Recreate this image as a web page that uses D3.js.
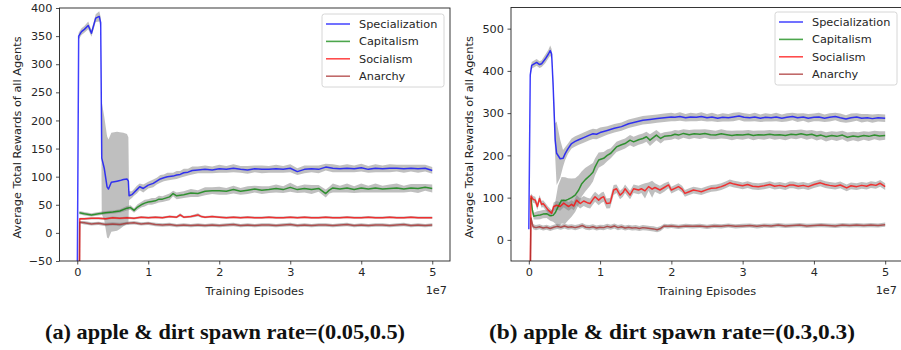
<!DOCTYPE html>
<html lang="en">
<head>
  <meta charset="UTF-8" />
  <title>Average Total Rewards</title>
  <script src="https://d3js.org/d3.v7.min.js"></script>
  <style>
    body { margin: 0; background: #fff; }
    svg text { font-family: "DejaVu Sans", sans-serif; fill: #262626; }
    .caption { font-family: "Liberation Serif", serif; font-weight: bold; fill: #111; }
  </style>
</head>
<body>
  <svg id="chart" width="901" height="350"></svg>

  <script>
    const seriesNames = ["Specialization", "Capitalism", "Socialism", "Anarchy"];
    const seriesColors = ["blue", "green", "red", "brown"];
    const xTicks = [0, 1, 2, 3, 4, 5];
    const yTicksA = [-50, 0, 50, 100, 150, 200, 250, 300, 350, 400];
    const yTicksB = [0, 100, 200, 300, 400, 500];

    // [training episodes (1e7), mean reward, std]
    const specA = [[0,-90,0],[0.02,350,6],[0.06,358,6],[0.1,362,6],[0.155,369,7],[0.2,355,6],[0.26,382,7],
      [0.31,385,9],[0.33,374,10],[0.345,133,100],[0.38,115,92],[0.42,82,90],[0.44,78,88],[0.48,90,88],
      [0.52,91,88],[0.56,92,88],[0.6,93,86],[0.65,95,83],[0.7,96,80],[0.72,92,78],[0.73,66,8],[0.77,68,6],
      [0.8,72,6],[0.84,77,7],[0.88,82,6],[0.93,79,7],[1.0,85,6],[1.07,88,7],[1.12,92,6],[1.17,96,7],
      [1.22,98,6],[1.27,100,7],[1.35,101,6],[1.4,103,7],[1.45,104,6],[1.5,107,7],[1.56,108,6],[1.62,111,7],
      [1.7,112,6],[1.8,113,7],[1.9,112,6],[2.0,114,7],[2.1,113,6],[2.2,115,7],[2.3,113,6],[2.4,112,7],
      [2.5,114,6],[2.6,113,7],[2.7,113,6],[2.8,114,7],[2.9,113,6],[3.0,115,7],[3.1,109,6],[3.2,113,7],
      [3.3,114,6],[3.4,113,7],[3.5,117,6],[3.6,115,7],[3.7,114,6],[3.8,115,7],[3.9,114,6],[4.0,116,7],
      [4.1,113,6],[4.2,115,7],[4.3,114,6],[4.4,115,7],[4.5,115,6],[4.6,114,7],[4.7,115,6],[4.8,114,7],
      [4.9,115,6],[5.0,111,6]];
    const capA = [[0.03,36,3],[0.1,34,3],[0.2,32,3],[0.3,34,3],[0.4,36,3],[0.5,37,3],[0.6,39,3],[0.7,44,4],
      [0.75,45,4],[0.8,40,4],[0.85,46,5],[0.9,50,5],[0.95,53,6],[1.0,55,5],[1.05,56,6],[1.1,57,5],
      [1.15,60,6],[1.2,60,5],[1.3,64,6],[1.35,70,5],[1.4,66,6],[1.5,68,6],[1.6,71,7],[1.7,70,6],
      [1.8,74,7],[1.9,75,6],[2.0,75,7],[2.1,74,6],[2.2,77,7],[2.3,74,6],[2.4,76,7],[2.5,78,6],
      [2.6,76,7],[2.7,77,6],[2.8,79,7],[2.9,77,6],[3.0,81,8],[3.1,77,6],[3.2,79,7],[3.3,77,8],
      [3.4,79,6],[3.5,70,7],[3.55,76,6],[3.6,80,8],[3.7,78,6],[3.8,80,8],[3.9,77,6],[4.0,80,8],
      [4.1,78,6],[4.2,80,8],[4.3,78,6],[4.4,79,7],[4.5,80,8],[4.6,78,6],[4.7,80,7],[4.8,79,8],
      [4.9,81,6],[5.0,79,7]];
    const socA = [[0.03,-90,0],[0.035,25,2],[0.1,25,2],[0.2,26,2],[0.3,26,2],[0.4,25,2],[0.5,27,2],
      [0.6,26,2],[0.7,27,2],[0.8,26,2],[0.9,28,2],[1.0,27,2],[1.1,28,2],[1.2,27,2],[1.3,29,2],[1.4,28,2],
      [1.45,32,3],[1.5,28,2],[1.6,29,2],[1.7,32,3],[1.75,29,2],[1.8,28,2],[1.9,29,2],[2.0,28,2],
      [2.1,27,2],[2.2,28,2],[2.3,27,2],[2.4,28,2],[2.5,27,2],[2.6,27,2],[2.7,28,2],[2.8,27,2],
      [2.9,27,2],[3.0,28,2],[3.1,27,2],[3.2,28,2],[3.3,27,2],[3.4,27,2],[3.5,28,2],[3.6,27,2],
      [3.7,27,2],[3.8,28,2],[3.9,27,2],[4.0,27,2],[4.1,28,2],[4.2,27,2],[4.3,27,2],[4.4,28,2],
      [4.5,27,2],[4.6,27,2],[4.7,28,2],[4.8,27,2],[4.9,27,2],[5.0,27,2]];
    const anaA = [[0.03,-90,0],[0.035,19,2],[0.1,18,3],[0.2,16,3],[0.3,17,3],[0.4,15,3],[0.5,16,3],
      [0.6,15,3],[0.7,17,3],[0.8,18,3],[0.9,16,3],[1.0,17,3],[1.1,15,3],[1.2,14,3],[1.3,15,3],[1.4,13,3],
      [1.5,14,3],[1.6,13,3],[1.7,14,3],[1.8,13,3],[1.9,14,3],[2.0,13,3],[2.1,14,3],[2.2,15,3],[2.3,13,3],
      [2.4,14,3],[2.5,13,3],[2.6,14,3],[2.7,14,3],[2.8,13,3],[2.9,14,3],[3.0,15,3],[3.1,13,3],[3.2,14,3],
      [3.3,13,3],[3.4,14,3],[3.5,14,3],[3.6,13,3],[3.7,14,3],[3.8,15,3],[3.9,13,3],[4.0,14,3],[4.1,13,3],
      [4.2,14,3],[4.3,14,3],[4.4,13,3],[4.5,14,3],[4.6,15,3],[4.7,13,3],[4.8,14,3],[4.9,13,3],[5.0,14,3]];

    const specB = [[0,25,0],[0.02,390,8],[0.04,413,8],[0.11,420,8],[0.15,415,8],[0.18,417,8],[0.23,428,10],
      [0.275,440,10],[0.3,448,12],[0.32,440,12],[0.34,370,20],[0.37,236,40],[0.39,205,75],[0.44,192,45],
      [0.48,193,20],[0.51,204,15],[0.55,216,12],[0.6,228,12],[0.65,233,12],[0.7,237,12],[0.77,242,12],
      [0.85,248,12],[0.9,251,12],[0.95,250,12],[1.0,254,12],[1.1,259,10],[1.2,264,10],[1.3,268,10],
      [1.4,275,10],[1.5,279,10],[1.6,283,10],[1.7,285,10],[1.8,287,10],[1.9,289,10],[2.0,291,10],
      [2.05,290,9],[2.12,292,10],[2.2,289,9],[2.27,291,10],[2.35,290,9],[2.42,292,10],[2.5,289,9],
      [2.57,291,10],[2.65,288,9],[2.72,290,10],[2.8,289,9],[2.87,291,10],[2.95,293,9],[3.02,290,10],
      [3.1,289,9],[3.17,291,10],[3.25,288,9],[3.32,290,10],[3.4,289,9],[3.47,291,10],[3.55,288,9],
      [3.62,290,10],[3.7,292,9],[3.77,289,10],[3.85,291,9],[3.92,288,10],[4.0,290,9],[4.07,291,10],
      [4.15,288,9],[4.22,290,10],[4.3,292,9],[4.37,289,10],[4.45,286,9],[4.52,289,10],[4.6,291,9],
      [4.67,288,10],[4.75,289,9],[4.82,287,10],[4.9,289,9],[5.0,288,9]];
    const capB = [[0.03,100,5],[0.05,70,8],[0.07,56,8],[0.12,58,10],[0.16,59,10],[0.2,61,10],[0.25,62,10],
      [0.3,57,12],[0.34,58,15],[0.37,64,25],[0.41,78,50],[0.46,94,55],[0.51,93,55],[0.55,96,50],
      [0.6,100,45],[0.65,106,40],[0.7,118,35],[0.74,132,30],[0.79,142,28],[0.86,153,25],[0.9,160,22],
      [0.93,173,20],[0.98,189,18],[1.05,193,15],[1.1,200,14],[1.15,205,12],[1.23,220,12],[1.3,225,12],
      [1.35,228,12],[1.42,236,12],[1.47,232,12],[1.54,237,12],[1.6,240,12],[1.65,244,12],[1.7,236,14],
      [1.79,248,12],[1.85,240,12],[1.9,245,10],[2.0,247,10],[2.05,250,10],[2.1,248,11],[2.17,252,10],
      [2.25,249,11],[2.32,251,10],[2.4,250,11],[2.47,252,10],[2.55,249,11],[2.62,248,10],[2.7,251,11],
      [2.78,249,10],[2.85,247,11],[2.92,249,10],[3.0,248,11],[3.08,250,10],[3.15,247,11],[3.22,249,10],
      [3.3,248,11],[3.38,250,10],[3.45,248,11],[3.52,249,10],[3.6,247,11],[3.68,250,10],[3.75,249,11],
      [3.82,251,10],[3.9,248,11],[3.97,250,10],[4.04,246,11],[4.1,248,10],[4.17,244,11],[4.25,247,10],
      [4.32,245,11],[4.4,248,10],[4.47,243,11],[4.55,246,10],[4.62,244,11],[4.7,247,10],[4.77,245,11],
      [4.85,248,10],[4.92,246,11],[5.0,247,10]];
    const socB = [[0.02,-90,0],[0.03,104,6],[0.06,96,8],[0.09,94,8],[0.12,79,8],[0.15,98,8],[0.18,84,8],
      [0.2,86,8],[0.23,80,8],[0.27,71,8],[0.32,63,8],[0.35,79,10],[0.39,82,10],[0.44,79,10],[0.49,87,10],
      [0.53,82,10],[0.56,79,10],[0.6,84,10],[0.63,80,10],[0.67,94,12],[0.72,86,12],[0.77,92,12],
      [0.82,88,12],[0.86,86,12],[0.9,96,12],[0.93,102,12],[0.98,94,12],[1.02,100,12],[1.05,102,12],
      [1.09,86,12],[1.14,87,12],[1.19,118,12],[1.23,121,10],[1.28,106,10],[1.32,112,10],[1.35,121,10],
      [1.42,106,10],[1.47,121,10],[1.54,118,10],[1.58,121,10],[1.63,116,18],[1.68,126,10],[1.73,120,20],
      [1.77,124,10],[1.84,118,10],[1.9,124,10],[1.96,130,8],[2.0,118,8],[2.05,122,8],[2.1,126,8],
      [2.15,120,8],[2.19,110,8],[2.25,114,8],[2.31,118,8],[2.37,116,8],[2.42,114,8],[2.5,119,8],
      [2.56,122,8],[2.63,123,8],[2.7,126,8],[2.76,130,8],[2.82,135,8],[2.88,132,8],[2.94,130,8],
      [3.0,128,8],[3.07,131,8],[3.14,127,8],[3.22,126,8],[3.3,128,8],[3.38,131,8],[3.45,127,8],
      [3.52,129,8],[3.6,126,8],[3.66,130,8],[3.71,130,8],[3.78,127,8],[3.85,129,8],[3.92,126,8],
      [4.0,131,8],[4.09,135,8],[4.16,131,8],[4.22,129,8],[4.3,127,8],[4.37,130,8],[4.46,123,8],
      [4.52,128,8],[4.6,126,8],[4.67,129,8],[4.74,127,8],[4.8,131,8],[4.87,129,8],[4.93,134,8],[5.0,126,8]];
    const anaB = [[0.02,-90,0],[0.03,52,6],[0.06,31,6],[0.1,29,6],[0.15,31,6],[0.2,28,6],[0.25,30,6],
      [0.3,27,6],[0.35,30,6],[0.4,32,6],[0.45,30,6],[0.5,33,6],[0.55,30,6],[0.6,31,6],[0.65,29,6],
      [0.7,31,6],[0.75,34,6],[0.8,30,6],[0.85,29,6],[0.9,31,6],[0.95,28,6],[1.0,30,6],[1.05,29,6],
      [1.1,32,6],[1.15,30,6],[1.2,33,6],[1.25,29,6],[1.3,31,6],[1.35,28,6],[1.4,30,6],[1.45,28,6],
      [1.5,29,6],[1.55,27,6],[1.6,29,6],[1.65,28,6],[1.7,27,6],[1.75,26,6],[1.8,24,6],[1.85,27,6],
      [1.9,33,5],[1.95,32,5],[2.0,33,5],[2.1,31,5],[2.2,33,5],[2.3,32,5],[2.4,33,5],[2.5,31,5],
      [2.6,33,5],[2.7,32,5],[2.8,34,5],[2.9,32,5],[3.0,33,5],[3.1,34,5],[3.2,32,5],[3.3,34,5],
      [3.4,33,5],[3.5,35,5],[3.6,33,5],[3.7,34,5],[3.8,35,5],[3.9,33,5],[4.0,34,5],[4.1,35,5],
      [4.2,34,5],[4.3,33,5],[4.4,35,5],[4.5,34,5],[4.6,35,5],[4.7,34,5],[4.8,35,5],[4.9,34,5],[5.0,36,5]];

    const panels = [
      { id: "a", left: 59.5, right: 450, top: 8, bottom: 261, yDomain: [-50, 400], yTicks: yTicksA,
        series: [specA, capA, socA, anaA], legend: { x: 322, y: 14 }, labelX: 17, expX: 447,
        caption: "(a) apple & dirt spawn rate=(0.05,0.5)", captionX: 225, captionW: 360 },
      { id: "b", left: 511, right: 903, top: 7.5, bottom: 261, yDomain: [-50, 550], yTicks: yTicksB,
        series: [specB, capB, socB, anaB], legend: { x: 775, y: 12 }, labelX: 469, expX: 897,
        caption: "(b) apple & dirt spawn rate=(0.3,0.3)", captionX: 672, captionW: 366 }
    ];

    const svg = d3.select("#chart");
    const fs = 11.3;

    panels.forEach(p => {
      const x = d3.scaleLinear().domain([-0.25, 5.25]).range([p.left, p.right]);
      const y = d3.scaleLinear().domain(p.yDomain).range([p.bottom, p.top]);

      svg.append("clipPath").attr("id", "clip-" + p.id)
        .append("rect")
        .attr("x", p.left).attr("y", p.top)
        .attr("width", p.right - p.left).attr("height", p.bottom - p.top);

      const g = svg.append("g").attr("clip-path", `url(#clip-${p.id})`);

      const area = d3.area()
        .x(d => x(d[0]))
        .y0(d => y(d[1] - d[2]))
        .y1(d => y(d[1] + d[2]));
      const line = d3.line()
        .x(d => x(d[0]))
        .y(d => y(d[1]));

      // std bands first, then the mean lines
      p.series.forEach(s => {
        g.append("path").attr("d", area(s))
          .attr("fill", "grey").attr("fill-opacity", 0.5);
      });
      p.series.forEach((s, i) => {
        g.append("path").attr("d", line(s))
          .attr("fill", "none")
          .attr("stroke", seriesColors[i])
          .attr("stroke-opacity", 0.75)
          .attr("stroke-width", 1.5)
          .attr("stroke-linejoin", "round");
      });

      // axes
      const xAxis = svg.append("g")
        .attr("transform", `translate(0,${p.bottom})`)
        .call(d3.axisBottom(x).tickValues(xTicks).tickSize(3.5).tickPadding(3.5).tickFormat(d3.format("d")));
      const yAxis = svg.append("g")
        .attr("transform", `translate(${p.left},0)`)
        .call(d3.axisLeft(y).tickValues(p.yTicks).tickSize(3.5).tickPadding(3.5)
          .tickFormat(d => d < 0 ? "\u2212" + Math.abs(d) : d));
      [xAxis, yAxis].forEach(a => {
        a.select(".domain").remove();
        a.selectAll("line").attr("stroke", "#222").attr("stroke-width", 0.8);
        a.selectAll("text").attr("font-size", fs).attr("fill", "#262626")
          .attr("font-family", "DejaVu Sans");
      });

      // frame
      svg.append("rect")
        .attr("x", p.left).attr("y", p.top)
        .attr("width", p.right - p.left).attr("height", p.bottom - p.top)
        .attr("fill", "none").attr("stroke", "#222").attr("stroke-width", 0.9);

      // labels
      svg.append("text")
        .attr("x", (x(0) + x(5)) / 2).attr("y", 295)
        .attr("text-anchor", "middle").attr("font-size", fs)
        .text("Training Episodes");
      svg.append("text")
        .attr("x", p.expX).attr("y", 293.5)
        .attr("text-anchor", "end").attr("font-size", fs)
        .text("1e7");
      svg.append("text")
        .attr("transform", `translate(${p.labelX + 4},${(p.top + p.bottom) / 2 + 3}) rotate(-90)`)
        .attr("text-anchor", "middle").attr("font-size", fs)
        .text("Average Total Rewards of all Agents");

      // legend
      const lg = svg.append("g").attr("transform", `translate(${p.legend.x},${p.legend.y})`);
      lg.append("rect")
        .attr("width", 122).attr("height", 73).attr("rx", 2.5)
        .attr("fill", "white").attr("fill-opacity", 0.8)
        .attr("stroke", "#cccccc").attr("stroke-width", 0.8);
      seriesNames.forEach((name, i) => {
        const ry = 10 + i * 17.4;
        lg.append("line")
          .attr("x1", 4).attr("x2", 28).attr("y1", ry).attr("y2", ry)
          .attr("stroke", seriesColors[i]).attr("stroke-opacity", 0.7)
          .attr("stroke-width", 1.6);
        lg.append("text")
          .attr("x", 37).attr("y", ry).attr("dy", "0.35em")
          .attr("font-size", fs)
          .text(name);
      });

      // caption
      svg.append("text")
        .attr("class", "caption")
        .attr("x", p.captionX).attr("y", 339)
        .attr("text-anchor", "middle")
        .attr("font-size", 21)
        .attr("textLength", p.captionW)
        .attr("lengthAdjust", "spacingAndGlyphs")
        .text(p.caption);
    });
  </script>
</body>
</html>
